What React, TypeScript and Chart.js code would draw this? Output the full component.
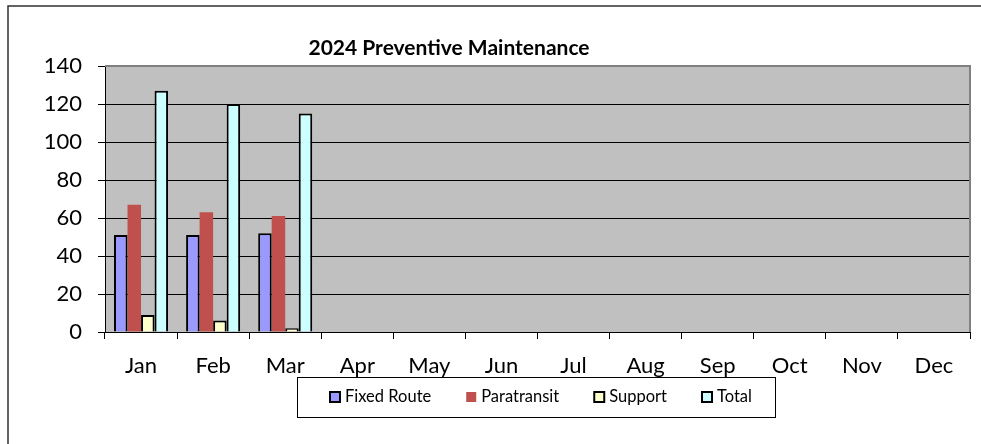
import React, { useEffect, useRef } from "react";
import { Chart, registerables } from "chart.js";

Chart.register(...registerables);

const months = ["Jan", "Feb", "Mar", "Apr", "May", "Jun", "Jul", "Aug", "Sep", "Oct", "Nov", "Dec"];
const fixedRoute = [51, 51, 52, null, null, null, null, null, null, null, null, null];
const paratransit = [67, 63, 61, null, null, null, null, null, null, null, null, null];
const support = [9, 6, 2, null, null, null, null, null, null, null, null, null];
const total = [127, 120, 115, null, null, null, null, null, null, null, null, null];
const yTicks = [0, 20, 40, 60, 80, 100, 120, 140];
const chartTitle = "2024 Preventive Maintenance";

const FONT = "Lato, 'Open Sans', sans-serif";

const decorPlugin = {
  id: "decor",
  beforeDraw(chart: any) {
    const { ctx, chartArea: a } = chart;
    ctx.save();
    ctx.fillStyle = "#ffffff";
    ctx.fillRect(0, 0, chart.width, chart.height);
    ctx.fillStyle = "#C0C0C0";
    ctx.fillRect(a.left, a.top, a.right - a.left, a.bottom - a.top);
    ctx.restore();
  },
  afterDraw(chart: any) {
    const { ctx, chartArea: a } = chart;
    ctx.save();
    // plot border top & right (gray)
    ctx.strokeStyle = "#808080";
    ctx.lineWidth = 2;
    ctx.beginPath();
    ctx.moveTo(a.left, a.top);
    ctx.lineTo(a.right, a.top);
    ctx.lineTo(a.right, a.bottom);
    ctx.stroke();
    // outer border
    ctx.strokeStyle = "#303030";
    ctx.lineWidth = 1.5;
    ctx.beginPath();
    ctx.moveTo(8, chart.height);
    ctx.lineTo(8, 6);
    ctx.lineTo(chart.width, 6);
    ctx.stroke();
    // title
    ctx.fillStyle = "#000";
    ctx.font = "bold 21px " + FONT;
    ctx.textAlign = "center";
    ctx.textBaseline = "middle";
    ctx.fillText(chartTitle, 449, 48);
    // legend
    const lx = 297, ly = 377, lw = 478, lh = 40;
    ctx.fillStyle = "#fff";
    ctx.fillRect(lx, ly, lw, lh);
    ctx.strokeStyle = "#000";
    ctx.lineWidth = 1;
    ctx.strokeRect(lx + 0.5, ly + 0.5, lw, lh);
    ctx.font = "16.5px " + FONT;
    ctx.textAlign = "left";
    ctx.textBaseline = "middle";
    let x = 330;
    const cy = 397;
    chart.data.datasets.forEach((ds: any) => {
      ctx.fillStyle = ds.backgroundColor;
      ctx.fillRect(x, cy - 5, 10, 10);
      if (ds.borderWidth > 0) {
        ctx.strokeStyle = "#000";
        ctx.lineWidth = 2;
        ctx.strokeRect(x, cy - 5, 10, 10);
      }
      ctx.fillStyle = "#000";
      ctx.fillText(ds.label, x + 15, cy);
      x += 15 + ctx.measureText(ds.label).width + 35;
    });
    ctx.restore();
  },
};

export default function App() {
  const ref = useRef<HTMLCanvasElement>(null);
  useEffect(() => {
    if (!ref.current) return;
    const chart = new Chart(ref.current, {
      type: "bar",
      data: {
        labels: months,
        datasets: [
          { label: "Fixed Route", data: fixedRoute, backgroundColor: "#9999FF", borderColor: "#000", borderWidth: 2 },
          { label: "Paratransit", data: paratransit, backgroundColor: "#C0504D", borderColor: "#C0504D", borderWidth: 0 },
          { label: "Support", data: support, backgroundColor: "#FFFFCC", borderColor: "#000", borderWidth: 2 },
          { label: "Total", data: total, backgroundColor: "#CCFFFF", borderColor: "#000", borderWidth: 2 },
        ],
      },
      options: {
        animation: false,
        responsive: false,
        devicePixelRatio: 1,
        datasets: { bar: { categoryPercentage: 0.75, barPercentage: 1.0 } },
        layout: { padding: { top: 66, right: 11, bottom: 0, left: 0 } },
        plugins: { legend: { display: false }, title: { display: false }, tooltip: { enabled: false } },
        scales: {
          x: {
            offset: true,
            grid: { offset: true, drawOnChartArea: false, drawTicks: true, tickLength: 7, color: "#000", lineWidth: 1 },
            border: { color: "#000", width: 1 },
            ticks: { color: "#000", font: { family: FONT, size: 22 }, padding: 14, maxRotation: 0 },
            afterFit(s: any) { s.height = 112; },
          },
          y: {
            min: 0,
            max: 140,
            afterBuildTicks(s: any) { s.ticks = yTicks.map((v) => ({ value: v })); },
            grid: { color: "#000", lineWidth: 1, drawTicks: true, tickLength: 7 },
            border: { color: "#000", width: 1 },
            ticks: { color: "#000", font: { family: FONT, size: 22 }, padding: 16 },
            afterFit(s: any) { s.width = 105; },
          },
        },
      },
      plugins: [decorPlugin],
    });
    return () => chart.destroy();
  }, []);
  return (
    <div style={{ position: "fixed", left: 0, top: 0, width: 981, height: 444 }}>
      <canvas ref={ref} width={981} height={444} style={{ width: 981, height: 444 }} />
    </div>
  );
}
